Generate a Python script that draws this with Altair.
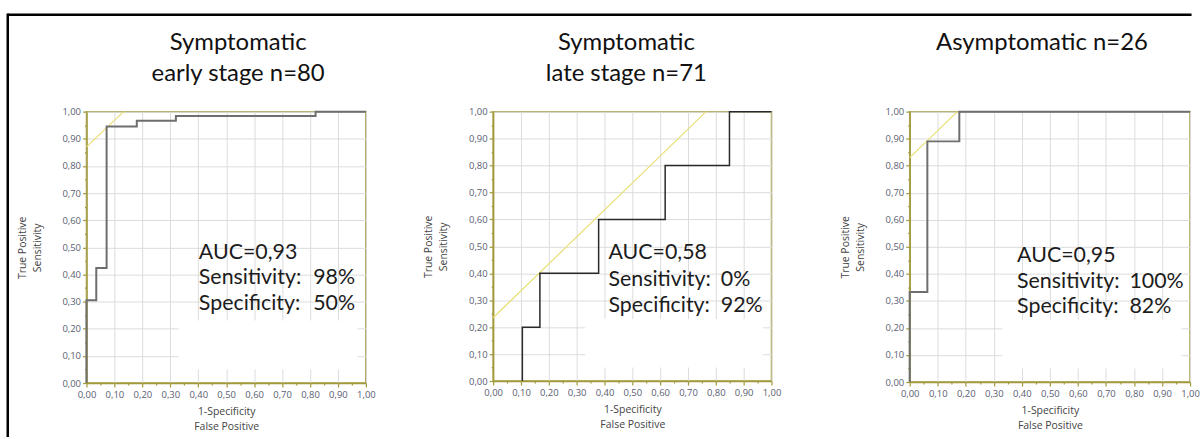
import altair as alt
import pandas as pd

# ---------------- data ----------------
titles = [["Symptomatic", "early stage n=80"], ["Symptomatic", "late stage n=71"], ["Asymptomatic n=26"]]
auc_text = ["AUC=0,93", "AUC=0,58", "AUC=0,95"]
sens_label = "Sensitivity:"
spec_label = "Specificity:"
sens_text = ["98%", "0%", "100%"]
spec_text = ["50%", "92%", "82%"]

roc_fpr = [
    [0.0, 0.0, 0.035, 0.072, 0.18, 0.32, 0.82, 1.0],
    [0.105, 0.105, 0.168, 0.379, 0.618, 0.849, 1.0],
    [0.0, 0.0, 0.063, 0.177, 1.0],
]
roc_tpr = [
    [0.0, 0.305, 0.424, 0.945, 0.966, 0.984, 1.0, 1.0],
    [0.0, 0.20, 0.40, 0.60, 0.80, 1.0, 1.0],
    [0.0, 0.333, 0.89, 1.0, 1.0],
]
tan_fpr = [[0.0, 0.133], [0.0, 0.765], [0.0, 0.17]]
tan_tpr = [[0.87, 1.0], [0.235, 1.0], [0.83, 1.0]]

tick_values = [0.0, 0.05, 0.1, 0.15, 0.2, 0.25, 0.3, 0.35, 0.4, 0.45, 0.5,
               0.55, 0.6, 0.65, 0.7, 0.75, 0.8, 0.85, 0.9, 0.95, 1.0]

# ---------------- styles ----------------
OLIVE = "#a29a3c"
YELLOW = "#e8df74"
LABEL_C = "#5a6072"
TXT_FONT = "Lato"
MAJOR = "round(datum.value*100) % 10 === 0"
LABEL_EXPR = MAJOR + " ? replace(format(datum.value, '.2f'), '.', ',') : ''"

widths = [281, 280, 282]
heights = [273, 271, 272]
line_colors = ["#6e6e6e", "#2a2a2a", "#6e6e6e"]
line_widths = [2.0, 1.5, 2.0]
title_dx = [12, -6, -8]
title_offset = [21, 21, 52]
text_x = [(113, 228), (116, 229), (108, 221)]
text_y = [(142, 167, 194), (142.5, 169, 196), (145, 171.5, 197)]

one = pd.DataFrame({"a": [0]})


def make_axis(title, is_x):
    return alt.Axis(
        values=tick_values,
        labelExpr=LABEL_EXPR,
        title=title,
        tickSize={"condition": {"test": MAJOR, "value": 4}, "value": 2},
        gridOpacity={"condition": {"test": MAJOR, "value": 1}, "value": 0},
        labelOverlap=False,
        labelFlush=False,
        labelPadding=3 if is_x else 2,
        titlePadding=7 if is_x else 20,
        titleLineHeight=15,
    )


def txt(s, px, py):
    return alt.Chart(one).mark_text(
        text=s, align="left", baseline="middle", font=TXT_FONT, fontSize=21.5, color="#1c1c1c"
    ).encode(x=alt.value(px), y=alt.value(py))


def panel(i):
    roc = pd.DataFrame({"fpr": roc_fpr[i], "tpr": roc_tpr[i], "k": list(range(len(roc_fpr[i])))})
    tan = pd.DataFrame({"fpr": tan_fpr[i], "tpr": tan_tpr[i]})
    xs = alt.Scale(domain=[0, 1], nice=False)
    ys = alt.Scale(domain=[0, 1], nice=False)
    xax = make_axis(["1-Specificity", "False Positive"], True)
    yax = make_axis(["True Positive", "Sensitivity"], False)
    xenc = alt.X("fpr:Q", scale=xs, axis=xax)
    yenc = alt.Y("tpr:Q", scale=ys, axis=yax)

    mask = alt.Chart(one).mark_rect(color="white").encode(
        x=alt.XDatum(0.33, type="quantitative", scale=xs, axis=xax),
        x2=alt.X2Datum(0.97),
        y=alt.YDatum(0.05, type="quantitative", scale=ys, axis=yax),
        y2=alt.Y2Datum(0.23),
    )
    tan_line = alt.Chart(tan).mark_line(color=YELLOW, strokeWidth=1.2).encode(x=xenc, y=yenc)
    roc_line = alt.Chart(roc).mark_line(
        interpolate="step-after", color=line_colors[i], strokeWidth=line_widths[i]
    ).encode(x=xenc, y=yenc, order="k:Q")

    lx, vx = text_x[i]
    ty = text_y[i]
    layers = [
        tan_line, mask, roc_line,
        txt(auc_text[i], lx, ty[0]),
        txt(sens_label, lx, ty[1]),
        txt(sens_text[i], vx, ty[1]),
        txt(spec_label, lx, ty[2]),
        txt(spec_text[i], vx, ty[2]),
    ]

    return alt.layer(*layers).properties(
        width=widths[i],
        height=heights[i],
        title=alt.TitleParams(
            text=titles[i], font=TXT_FONT, fontSize=24, fontWeight="normal", color="#111111",
            anchor="middle", frame="group", offset=title_offset[i], dx=title_dx[i], lineHeight=31,
        ),
    )


p1 = panel(0)
p2 = panel(1)
p3 = panel(2)

# spacer 1 also carries the outer black frame (it has no title, so it disturbs nothing)
frame_left = alt.Chart(one).mark_rule(color="black", strokeWidth=2.5, strokeCap="square").encode(
    x=alt.value(-420.2), y=alt.value(-97.5), y2=alt.value(326)
)
frame_top = alt.Chart(one).mark_rule(color="black", strokeWidth=2.5).encode(
    x=alt.value(-420.2), x2=alt.value(770.5), y=alt.value(-97.5)
)
spacer1 = alt.layer(frame_left, frame_top).properties(
    width=7.7, height=1, view=alt.ViewBackground(stroke="transparent")
)
spacer2 = alt.Chart(one).mark_point(opacity=0).encode(
    x=alt.value(0), y=alt.value(0)
).properties(width=18.6, height=1, view=alt.ViewBackground(stroke="transparent"))

chart = alt.hconcat(p1, spacer1, p2, spacer2, p3, spacing=60, bounds="flush").properties(
    padding={"left": 5, "top": 10, "right": 0, "bottom": 0},
    background="white",
).configure_view(
    stroke=OLIVE, strokeWidth=1.5
).configure_axis(
    domainColor=OLIVE, domainWidth=1.5,
    tickColor=OLIVE, tickWidth=1.2,
    gridColor="#dcdcdc", gridWidth=1,
    labelFont="Open Sans", labelFontSize=9.5, labelColor=LABEL_C,
    titleFont="Open Sans", titleFontSize=10.5, titleFontWeight="normal", titleColor="#444444",
)

chart.save("out.html", embed_options={"renderer": "svg", "actions": False})
